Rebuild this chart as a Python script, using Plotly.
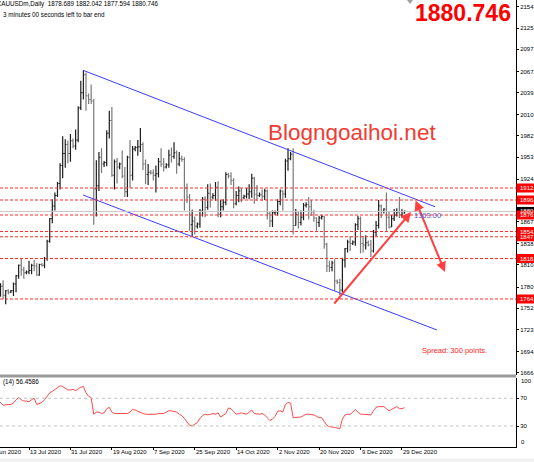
import pandas as pd
import plotly.graph_objects as go

W, H = 534, 462

# ---------------- data ----------------
# Daily bars of the broker (Sunday bars present, no bar on 25 Dec)
days = pd.date_range("2020-06-28", "2020-12-30", freq="D")
dates = [d.strftime("%Y-%m-%d") for d in days
         if d.weekday() != 5 and d.strftime("%m-%d") != "12-25"]

open_ = [
    1771, 1771, 1772, 1781, 1769, 1775,
    1773, 1775, 1784, 1795, 1809, 1803,
    1799, 1800, 1802, 1809, 1808, 1796,
    1810, 1809, 1818, 1841, 1871, 1888,
    1902, 1918, 1942, 1958, 1970, 1958,
    1975, 1968, 1976, 2019, 2039, 2063,
    2035, 2030, 2028, 1911, 1915, 1953,
    1944, 1946, 1985, 2002, 1929, 1947,
    1940, 1944, 1928, 1907, 1953, 1929,
    1964, 1966, 1967, 1970, 1944, 1930,
    1933, 1932, 1929, 1931, 1947, 1944,
    1940, 1943, 1956, 1954, 1959, 1944,
    1951, 1950, 1912, 1900, 1863, 1868,
    1861, 1864, 1881, 1897, 1886, 1905,
    1900, 1902, 1913, 1877, 1887, 1893,
    1930, 1928, 1922, 1891, 1902, 1908,
    1899, 1901, 1904, 1907, 1925, 1904,
    1902, 1903, 1901, 1908, 1878, 1868,
    1879, 1880, 1894, 1908, 1904, 1948,
    1951, 1957, 1862, 1877, 1866, 1873,
    1889, 1890, 1887, 1880, 1872, 1866,
    1872, 1874, 1837, 1808, 1806, 1812,
    1788, 1786, 1776, 1816, 1831, 1840,
    1838, 1840, 1863, 1871, 1838, 1836,
    1839, 1836, 1828, 1853, 1862, 1888,
    1881, 1884, 1873, 1860, 1871,
    1876, 1880, 1876, 1878.689,
]
high = [
    1773, 1775, 1785, 1789, 1776, 1777,
    1776, 1786, 1796, 1810, 1818, 1807,
    1802, 1815, 1811, 1816, 1812, 1811,
    1812, 1820, 1843, 1872, 1897, 1906,
    1920, 1945, 1981, 1977, 1975, 1984,
    1978, 1990, 2021, 2055, 2069, 2066,
    2038, 2050, 2031, 1949, 1960, 1965,
    1948, 1989, 2015, 2020, 1950, 1952,
    1946, 1962, 1940, 1955, 1976, 1968,
    1968, 1976, 1992, 1973, 1950, 1944,
    1936, 1937, 1942, 1952, 1965, 1952,
    1945, 1963, 1966, 1973, 1962, 1960,
    1955, 1953, 1918, 1904, 1883, 1874,
    1866, 1884, 1900, 1901, 1917, 1918,
    1905, 1920, 1921, 1896, 1897, 1933,
    1932, 1933, 1925, 1908, 1914, 1912,
    1903, 1912, 1917, 1931, 1927, 1916,
    1906, 1910, 1911, 1910, 1880, 1882,
    1882, 1897, 1910, 1909, 1951, 1965,
    1960, 1965, 1884, 1881, 1882, 1892,
    1893, 1900, 1896, 1883, 1873, 1875,
    1876, 1875, 1839, 1815, 1815, 1817,
    1790, 1791, 1819, 1832, 1843, 1848,
    1842, 1865, 1875, 1874, 1848, 1849,
    1842, 1843, 1856, 1868, 1896, 1890,
    1885, 1906, 1880, 1876, 1884,
    1885, 1900, 1884, 1882.042,
]
low = [
    1769, 1762, 1767, 1764, 1757, 1770,
    1772, 1768, 1773, 1791, 1795, 1791,
    1797, 1797, 1797, 1801, 1795, 1795,
    1807, 1805, 1815, 1839, 1865, 1882,
    1900, 1910, 1925, 1939, 1945, 1947,
    1965, 1963, 1973, 2016, 2030, 2015,
    2024, 2024, 1863, 1874, 1908, 1932,
    1940, 1941, 1978, 1927, 1910, 1918,
    1937, 1925, 1900, 1900, 1912, 1922,
    1961, 1955, 1960, 1936, 1917, 1916,
    1930, 1922, 1906, 1926, 1940, 1934,
    1938, 1939, 1946, 1951, 1931, 1941,
    1947, 1882, 1892, 1855, 1848, 1850,
    1858, 1859, 1874, 1873, 1883, 1886,
    1897, 1895, 1873, 1873, 1882, 1889,
    1925, 1916, 1885, 1889, 1893, 1893,
    1897, 1898, 1897, 1899, 1891, 1895,
    1900, 1895, 1896, 1870, 1860, 1860,
    1876, 1875, 1889, 1882, 1899, 1935,
    1949, 1850, 1862, 1858, 1862, 1869,
    1886, 1870, 1875, 1867, 1855, 1860,
    1870, 1831, 1800, 1800, 1801, 1775,
    1784, 1769, 1773, 1806, 1826, 1828,
    1836, 1835, 1856, 1825, 1826, 1830,
    1834, 1820, 1826, 1848, 1858, 1872,
    1878, 1855, 1858, 1860, 1868,
    1874, 1872, 1872, 1877.594,
]
close = [
    1771, 1772, 1781, 1769, 1775, 1773,
    1775, 1784, 1795, 1809, 1803, 1799,
    1800, 1802, 1809, 1808, 1796, 1810,
    1809, 1818, 1841, 1871, 1888, 1902,
    1918, 1942, 1958, 1970, 1958, 1975,
    1968, 1976, 2019, 2039, 2063, 2035,
    2030, 2028, 1911, 1915, 1953, 1944,
    1946, 1985, 2002, 1929, 1947, 1940,
    1944, 1928, 1907, 1953, 1929, 1964,
    1966, 1967, 1970, 1944, 1930, 1933,
    1932, 1929, 1931, 1947, 1944, 1940,
    1943, 1956, 1954, 1959, 1944, 1951,
    1950, 1912, 1900, 1863, 1868, 1861,
    1864, 1881, 1897, 1886, 1905, 1900,
    1902, 1913, 1877, 1887, 1893, 1930,
    1928, 1922, 1891, 1902, 1908, 1899,
    1901, 1904, 1907, 1925, 1904, 1902,
    1903, 1901, 1908, 1878, 1868, 1879,
    1880, 1894, 1908, 1904, 1948, 1951,
    1957, 1862, 1877, 1866, 1873, 1889,
    1890, 1887, 1880, 1872, 1866, 1872,
    1874, 1837, 1808, 1806, 1812, 1788,
    1786, 1776, 1816, 1831, 1840, 1838,
    1840, 1863, 1871, 1838, 1836, 1839,
    1836, 1828, 1853, 1862, 1888, 1881,
    1884, 1873, 1860, 1871, 1876,
    1880, 1876, 1877, 1880.746,
]
rsi = [
    62, 63, 64, 60, 61, 61,
    61, 63, 68, 71, 68, 66,
    66, 65, 68, 70, 61, 63,
    64, 68, 74, 78, 80, 83,
    85, 88, 87, 85, 82, 82,
    83, 81, 84, 86, 87, 78,
    73, 71, 47, 50, 50, 48,
    49, 55, 57, 50, 48, 48,
    47, 47, 47, 48, 50, 54,
    53, 51, 49, 48, 47, 47,
    46, 46, 47, 48, 48, 48,
    50, 52, 52, 51, 50, 47,
    45, 41, 36, 31, 30, 33,
    35, 41, 45, 47, 46, 47,
    48, 47, 49, 43, 45, 48,
    56, 55, 51, 47, 48, 49,
    48, 47, 50, 53, 48, 47,
    47, 48, 46, 42, 38, 40,
    44, 51, 52, 50, 61, 64,
    63, 42, 42, 43, 43, 45,
    47, 47, 47, 46, 44, 42,
    42, 36, 31, 29, 29, 28,
    27, 26, 40, 46, 47, 47,
    50, 54, 50, 47, 47, 47,
    47, 46, 52, 57, 58, 58,
    58, 55, 52, 54, 56,
    58, 55, 55, 56.4586,
]

tick_dates = ["2020-07-13", "2020-07-31", "2020-08-19", "2020-09-07", "2020-09-25",
              "2020-10-14", "2020-11-02", "2020-11-20", "2020-12-09", "2020-12-29"]
tick_labels = ["13 Jul 2020", "31 Jul 2020", "19 Aug 2020", "7 Sep 2020", "25 Sep 2020",
               "14 Oct 2020", "2 Nov 2020", "20 Nov 2020", "9 Dec 2020", "29 Dec 2020"]
price_ticks = [2154, 2125, 2097, 2067, 2039, 2010, 1982, 1953, 1924,
               1867, 1838, 1810, 1780, 1752, 1723, 1694, 1666]
price_tick_labels = [f"{v}." for v in price_ticks]
levels = [1912, 1896, 1876, 1854, 1847, 1818, 1764]
level_labels = ["1912.", "1896.", "1876.", "1854.", "1847.", "1818.", "1764."]
bid = 1880.746
# channel lines (bar index, price)
upper_x, upper_y = [33.85, 169.8], [2069, 1887]
lower_x, lower_y = [33.85, 170.5], [1902.7, 1722.7]
# drawn arrows (tail bar, tail price, head bar, head price)
arrow_up = (130.4, 1756, 160.5, 1880)
arrow_down = (162.0, 1897.3, 173.6, 1800)

# ---------------- figure ----------------
FONT = "Liberation Sans, Arial, sans-serif"
xs = list(range(len(dates)))
tick_idx = [dates.index(d) for d in tick_dates]


def px(x):
    return x / W


def py(y):
    return 1 - y / H


fig = go.Figure()
fig.add_trace(go.Ohlc(
    x=xs, open=open_, high=high, low=low, close=close,
    increasing=dict(line=dict(color="#1e1e1e", width=1.2)),
    decreasing=dict(line=dict(color="#7a7a7a", width=1.2)),
    tickwidth=0.45, hoverinfo="skip", showlegend=False,
    xaxis="x", yaxis="y"))
fig.add_trace(go.Scatter(x=upper_x, y=upper_y, mode="lines",
                         line=dict(color="#3c3cff", width=1),
                         hoverinfo="skip", showlegend=False, xaxis="x", yaxis="y"))
fig.add_trace(go.Scatter(x=lower_x, y=lower_y, mode="lines",
                         line=dict(color="#3c3cff", width=1),
                         hoverinfo="skip", showlegend=False, xaxis="x", yaxis="y"))
fig.add_trace(go.Scatter(x=xs, y=rsi, mode="lines",
                         line=dict(color="#ff4a4a", width=1),
                         hoverinfo="skip", showlegend=False, xaxis="x", yaxis="y2"))

shapes = []
annotations = []

# current bid line
shapes.append(dict(type="line", xref="paper", yref="y", x0=0, x1=px(516),
                   y0=bid, y1=bid, line=dict(color="#c8c8c8", width=1)))
# red dashed levels
for lv in levels:
    shapes.append(dict(type="line", xref="paper", yref="y", x0=0, x1=px(516),
                       y0=lv, y1=lv, line=dict(color="#ff2a2a", width=1, dash="3px,2px")))
# RSI level lines
for lv in (70, 30):
    shapes.append(dict(type="line", xref="paper", yref="y2", x0=0, x1=px(516),
                       y0=lv, y1=lv, line=dict(color="#c4c4c4", width=1, dash="dot")))
# panel separator
shapes.append(dict(type="rect", xref="paper", yref="paper", x0=0, x1=px(516),
                   y0=py(377.5), y1=py(374.5), fillcolor="#9a9a9a", line=dict(width=0)))
# bottom gray strip
shapes.append(dict(type="rect", xref="paper", yref="paper", x0=0, x1=1,
                   y0=0, y1=py(458.5), fillcolor="#f0f0f0", line=dict(width=0)))
# chart shift marker
shapes.append(dict(type="path", xref="paper", yref="paper",
                   path=f"M {px(407)},{py(0)} L {px(413)},{py(0)} L {px(410)},{py(4)} Z",
                   fillcolor="#a0a0a0", line=dict(width=0)))
# current price label (black), then level labels (red)
shapes.append(dict(type="rect", xref="paper", yref="y", x0=px(516.5), x1=1.0,
                   y0=bid - 6, y1=bid + 6, fillcolor="#000000", line=dict(width=0)))
annotations.append(dict(xref="paper", yref="y", x=px(518), y=bid, text="1880.",
                        xanchor="left", yanchor="middle", showarrow=False,
                        font=dict(family=FONT, size=6, color="white")))
for lv, lab in zip(levels, level_labels):
    shapes.append(dict(type="rect", xref="paper", yref="y", x0=px(516.5), x1=1.0,
                       y0=lv - 6, y1=lv + 6, fillcolor="#ff0000", line=dict(width=0)))
    annotations.append(dict(xref="paper", yref="y", x=px(518), y=lv, text=lab,
                            xanchor="left", yanchor="middle", showarrow=False,
                            font=dict(family=FONT, size=6, color="white")))

# date labels, left-aligned on their tick as in MetaTrader
for ti, lab in zip(tick_idx, tick_labels):
    annotations.append(dict(xref="x", yref="paper", x=ti, y=py(452), text=lab,
                            xanchor="left", yanchor="middle", showarrow=False, xshift=-1,
                            font=dict(family=FONT, size=6, color="#000000")))

# arrows
tx, ty, hx, hy = arrow_up
annotations.append(dict(xref="x", yref="y", axref="x", ayref="y",
                        x=hx, y=hy, ax=tx, ay=ty, text="", showarrow=True,
                        arrowhead=2, arrowsize=1, arrowwidth=2, arrowcolor="#ff4040"))
tx, ty, hx, hy = arrow_down
annotations.append(dict(xref="x", yref="y", axref="x", ayref="y",
                        x=hx, y=hy, ax=tx, ay=ty, text="", showarrow=True,
                        arrowhead=2, arrowside="end+start", startarrowhead=2,
                        arrowsize=1, startarrowsize=1,
                        arrowwidth=2, arrowcolor="#ff4040"))

texts = [
    dict(x=px(-5), y=py(4.5), text="XAUUSDm,Daily  1878.689 1882.042 1877.594 1880.746",
         size=6.3, color="#000000"),
    dict(x=px(0.5), y=py(14.5), text="3 minutes 00 seconds left to bar end",
         size=6.3, color="#000000"),
    dict(x=px(1), y=py(382), text="(14) 56.4586", size=6.3, color="#000000"),
    dict(x=px(-14), y=py(452), text="24 Jun 2020", size=6, color="#000000"),
    dict(x=px(519), y=py(381), text="100", size=6, color="#000000"),
    dict(x=px(519), y=py(442), text="0", size=6, color="#000000"),
    dict(x=px(420), y=py(350), text="Spread: 300 points.", size=7.5, color="#ff2020"),
    dict(x=px(412), y=py(216), text="1363.00", size=7.5, color="#5a5ad8"),
]
for t in texts:
    annotations.append(dict(xref="paper", yref="paper", x=t["x"], y=t["y"], text=t["text"],
                            xanchor="left", yanchor="middle", showarrow=False,
                            font=dict(family=FONT, size=t["size"], color=t["color"])))
annotations.append(dict(xref="paper", yref="paper", x=px(463), y=py(13),
                        text="<b>1880.746</b>", xanchor="center", yanchor="middle",
                        showarrow=False, font=dict(family=FONT, size=23, color="#ff0000")))
annotations.append(dict(xref="paper", yref="paper", x=px(352), y=py(132),
                        text="Blogngoaihoi.net", xanchor="center", yanchor="middle",
                        showarrow=False, font=dict(family=FONT, size=22.5, color="#f03c32")))

fig.update_layout(
    width=W, height=H, margin=dict(l=0, r=0, t=0, b=0),
    paper_bgcolor="white", plot_bgcolor="white", showlegend=False,
    font=dict(family=FONT, size=6, color="#000000"),
    xaxis=dict(domain=[0, px(516)], range=[1.803, 201.03], anchor="y2",
               tickmode="array", tickvals=tick_idx, showticklabels=False,
               ticks="outside", ticklen=2, tickcolor="#000", tickwidth=1,
               showline=True, linecolor="#000", linewidth=1, mirror=False,
               showgrid=False, zeroline=False, rangeslider=dict(visible=False),
               automargin=False, fixedrange=True),
    yaxis=dict(domain=[py(375), 1], range=[1662.67, 2162.67], side="right", anchor="x",
               tickmode="array", tickvals=price_ticks, ticktext=price_tick_labels,
               ticks="outside", ticklen=2, tickcolor="#000", tickfont=dict(size=6),
               showline=True, linecolor="#000", linewidth=1,
               showgrid=False, zeroline=False, automargin=False, fixedrange=True),
    yaxis2=dict(domain=[py(446.8), py(377.5)], range=[0, 100], side="right", anchor="x",
                tickmode="array", tickvals=[70, 30], ticktext=["70", "30"],
                ticks="outside", ticklen=2, tickcolor="#000", tickfont=dict(size=6),
                showline=True, linecolor="#000", linewidth=1,
                showgrid=False, zeroline=False, automargin=False, fixedrange=True),
    shapes=shapes, annotations=annotations,
)

fig.write_html("out.html", config={"displayModeBar": False},
               post_script="document.body.style.margin='0';document.body.style.padding='0';"
                           "document.body.style.overflow='hidden';")
